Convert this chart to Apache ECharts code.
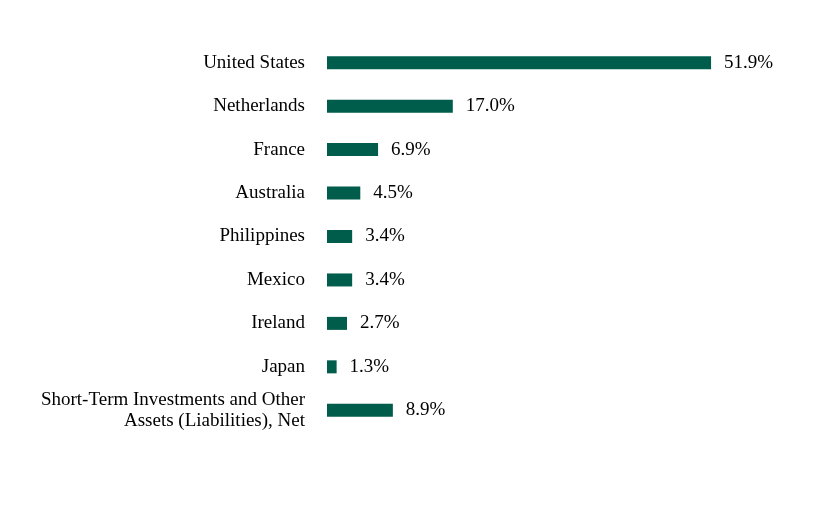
<!DOCTYPE html>
<html><head><meta charset="utf-8">
<script src="https://cdn.jsdelivr.net/npm/echarts@6/dist/echarts.min.js"></script>
<style>html,body{margin:0;padding:0;background:#fff}#c{width:816px;height:528px}</style>
</head><body><div id="c"></div>
<script>
const categories = ["United States","Netherlands","France","Australia","Philippines","Mexico","Ireland","Japan","Short-Term Investments and Other\nAssets (Liabilities), Net"];
const values = [51.9,17.0,6.9,4.5,3.4,3.4,2.7,1.3,8.9];
const chart = echarts.init(document.getElementById('c'));
chart.setOption({
  animation:false,
  grid:{left:327,right:45,top:41,bottom:96,containLabel:false},
  xAxis:{type:'value',min:0,max:60,show:false},
  yAxis:{type:'category',data:categories,inverse:true,
    axisLine:{show:false},axisTick:{show:false},
    axisLabel:{fontFamily:'Liberation Serif',fontSize:19,color:'#000',margin:22,align:'right',lineHeight:21}},
  series:[{type:'bar',data:values,barWidth:13,itemStyle:{color:'#005C4B'},
    label:{show:true,position:'right',distance:13,fontFamily:'Liberation Serif',fontSize:19,color:'#000',
      formatter:p=>p.value.toFixed(1)+'%'}}]
});
</script></body></html>
